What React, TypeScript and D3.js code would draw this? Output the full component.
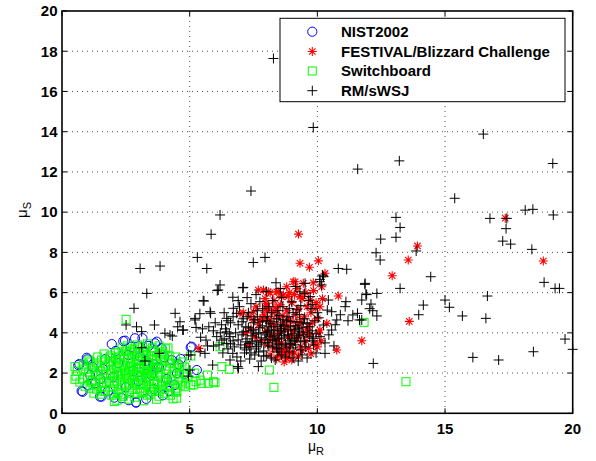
import { useEffect, useRef } from 'react'
import * as d3 from 'd3'

const W = 596
const H = 461

const xTicks = [0, 5, 10, 15, 20]
const yTicks = [0, 2, 4, 6, 8, 10, 12, 14, 16, 18, 20]
const legendNames = ['NIST2002', 'FESTIVAL/Blizzard Challenge', 'Switchboard', 'RM/sWSJ']

// [muR, muS]
const nist: [number, number][] = [
  [1.95, 3.44], [2.47, 3.61], [2.86, 3.73], [3.15, 3.73], [2.4, 3.59], [3.64, 3.48], [3.71, 3.56], [3.9, 3.23], [5.04, 3.28], [5.08, 3.31], [5.28, 2.15],
  [0.99, 2.68], [0.97, 2.76], [0.68, 2.45], [0.64, 2.4], [0.81, 1.07], [0.77, 1.11], [1.49, 0.83], [1.55, 0.83], [2.34, 0.75], [2.9, 0.53], [2.9, 0.55],
  [4.56, 2.44], [4.3, 2.65], [3.06, 2.81], [3.25, 2.4], [3.58, 2.45], [3.72, 2.29],
  [1.3, 1.5], [1.6, 2.2], [2.0, 1.8], [2.2, 2.5], [2.6, 2.9], [2.8, 2.1], [3.0, 1.6], [3.3, 2.6], [3.5, 1.9], [3.8, 2.3], [4.1, 1.7], [2.5, 1.3],
  [1.8, 1.1], [3.6, 1.2], [4.0, 2.8], [1.2, 2.3], [2.7, 3.3], [3.2, 3.1], [2.1, 3.1], [1.5, 1.7], [4.4, 1.4], [4.5, 2.0], [2.05, 0.78], [3.3, 0.72],
  [2.62, 0.65], [1.1, 1.9], [1.0, 1.4], [4.2, 1.1], [3.95, 0.9], [1.7, 2.7], [3.4, 3.35], [4.65, 2.7], [4.8, 1.95],
]

const festival: [number, number][] = [
  [5.36, 3.23], [9.26, 8.91], [9.32, 7.46], [9.69, 7.26], [10.04, 7.58], [10.3, 6.96], [11.74, 3.61], [10.76, 3.15], [13.6, 4.57], [12.93, 6.84],
  [13.56, 7.62], [13.92, 8.32], [17.36, 9.7], [18.85, 7.57], [10.82, 5.83], [9.13, 6.54], [9.45, 6.46], [9.84, 6.49], [10.17, 6.29], [8.41, 6.04],
  [8.08, 6.04], [8.47, 6.04], [7.89, 6.13], [7.69, 6.13], [8.8, 6.29], [8.86, 5.8], [7.99, 5.47], [8.02, 5.13], [8.02, 5.3], [6.97, 4.97],
  [7.1, 5.0], [7.36, 4.8], [7.49, 4.64], [7.75, 4.64], [7.88, 4.72], [8.08, 4.64], [8.54, 2.9], [8.8, 2.73], [8.54, 3.23], [8.93, 2.98],
  [9.26, 2.81], [9.65, 3.23], [8.8, 3.15], [10.1, 5.3], [9.06, 6.54], [10.37, 4.47], [10.1, 4.14], [9.32, 5.8], [9.72, 5.63], [9.92, 5.22],
  [8.02, 5.22], [8.41, 5.13], [8.15, 5.99], [8.67, 5.88],
  [7.4, 4.2], [7.55, 3.8], [7.7, 4.4], [7.8, 3.6], [7.9, 4.9], [8.0, 4.1], [8.05, 3.4], [8.1, 4.6], [8.2, 3.9], [8.25, 5.0], [8.3, 3.2], [8.35, 4.3],
  [8.4, 3.7], [8.45, 4.8], [8.5, 4.0], [8.55, 5.4], [8.6, 3.5], [8.65, 4.5], [8.7, 3.1], [8.75, 4.2], [8.8, 5.1], [8.85, 3.8], [8.9, 4.7], [8.95, 3.4],
  [9.0, 5.5], [9.05, 4.1], [9.1, 3.0], [9.15, 4.9], [9.2, 3.7], [9.25, 5.2], [9.3, 4.4], [9.35, 3.3], [9.4, 5.7], [9.45, 4.0], [9.5, 4.8], [9.55, 3.6],
  [9.6, 5.3], [9.65, 4.3], [9.7, 3.9], [9.75, 5.0], [9.8, 4.5], [9.9, 3.5], [9.95, 5.5], [10.0, 4.7], [10.05, 4.0], [10.15, 3.6], [8.15, 2.9], [8.4, 2.7],
  [8.7, 2.55], [9.0, 2.65], [8.9, 6.0], [9.2, 6.2], [9.55, 6.0], [8.6, 5.8], [8.3, 5.6], [7.6, 5.3], [7.3, 3.4], [7.2, 4.0], [9.85, 6.1], [10.2, 5.7],
  [9.1, 5.9], [8.75, 3.0], [8.55, 2.95], [9.4, 3.1], [9.75, 2.95], [10.0, 3.3], [8.2, 4.45], [8.65, 4.85], [9.05, 4.55], [9.35, 4.65], [8.85, 4.35],
  [8.45, 3.55], [9.25, 3.85], [8.95, 3.85], [8.35, 5.25], [9.6, 4.15], [8.1, 3.65], [7.95, 5.7], [7.5, 5.05],
]

const switchboard: [number, number][] = [
  [2.51, 4.67], [6.26, 2.32], [6.55, 2.19], [8.12, 2.15], [8.3, 1.29], [5.04, 2.85], [5.7, 1.9], [5.99, 1.52], [5.73, 1.49], [5.47, 1.49],
  [5.25, 1.57], [5.04, 1.41], [4.49, 0.75], [2.05, 0.58], [0.51, 2.32], [0.51, 1.69], [11.83, 4.52], [13.47, 1.57], [5.2, 2.0], [4.9, 1.8],
  [5.93, 1.57], [5.41, 1.65], [5.14, 1.41], [4.82, 1.32], [6.19, 3.31],
  [2.35, 3.25], [2.55, 3.35], [2.75, 3.2], [2.95, 3.4], [3.15, 3.3], [3.35, 3.45], [3.55, 3.25], [3.8, 3.35], [4.05, 3.2], [2.2, 3.05], [3.95, 3.05], [4.15, 3.25],
  [1.65, 2.95], [1.9, 2.85], [2.1, 3.0], [2.4, 2.9], [2.65, 3.05], [2.85, 2.85], [3.05, 3.0], [3.3, 2.9], [3.5, 3.05], [3.7, 2.85], [3.9, 2.95], [4.2, 2.85], [4.45, 2.8], [1.4, 2.8],
  [0.85, 2.45], [1.1, 2.55], [1.35, 2.5], [1.55, 2.65], [1.8, 2.45], [2.0, 2.6], [2.25, 2.5], [2.45, 2.7], [2.7, 2.55], [2.9, 2.45], [3.1, 2.65], [3.35, 2.5],
  [3.55, 2.7], [3.75, 2.45], [4.0, 2.6], [4.25, 2.5], [4.5, 2.4], [4.7, 2.55],
  [0.6, 2.1], [0.85, 2.2], [1.05, 2.05], [1.25, 2.25], [1.5, 2.1], [1.7, 2.3], [1.95, 2.15], [2.15, 2.05], [2.35, 2.25], [2.6, 2.1], [2.8, 2.3], [3.0, 2.05],
  [3.2, 2.2], [3.45, 2.1], [3.65, 2.25], [3.85, 2.05], [4.1, 2.2], [4.35, 2.1], [4.6, 2.25], [4.75, 2.05],
  [0.55, 1.85], [0.8, 1.7], [1.0, 1.8], [1.2, 1.65], [1.4, 1.9], [1.65, 1.75], [1.85, 1.6], [2.05, 1.85], [2.3, 1.7], [2.5, 1.9], [2.75, 1.65], [2.95, 1.8],
  [3.15, 1.7], [3.4, 1.85], [3.6, 1.6], [3.85, 1.8], [4.05, 1.65], [4.3, 1.85], [4.55, 1.7], [4.7, 1.6],
  [0.9, 1.35], [1.1, 1.25], [1.3, 1.45], [1.55, 1.3], [1.75, 1.5], [2.0, 1.35], [2.2, 1.2], [2.45, 1.45], [2.65, 1.3], [2.85, 1.5], [3.05, 1.25], [3.3, 1.4],
  [3.5, 1.3], [3.75, 1.45], [3.95, 1.2], [4.2, 1.35], [4.45, 1.25], [4.65, 1.4],
  [1.25, 1.0], [1.5, 0.95], [1.7, 1.1], [1.95, 0.9], [2.2, 1.05], [2.4, 0.85], [2.65, 1.0], [2.85, 0.8], [3.1, 1.05], [3.35, 0.9], [3.55, 1.1], [3.8, 0.85],
  [4.0, 1.0], [4.25, 0.9], [4.45, 1.05],
  [2.15, 0.65], [2.6, 0.7], [3.2, 0.62], [3.7, 0.7], [4.35, 0.72],
  [2.5, 2.0], [2.7, 1.8], [2.9, 2.2], [3.1, 1.9], [3.3, 2.3], [2.4, 2.4], [3.6, 2.0], [2.2, 1.9], [3.0, 2.7], [2.6, 1.5], [3.4, 1.6], [1.9, 2.0],
  [1.3, 2.0], [1.45, 2.35], [1.6, 1.55], [1.75, 1.95], [1.9, 2.55], [2.05, 1.5], [2.15, 2.3], [2.3, 1.95], [2.35, 1.4], [2.45, 2.15], [2.55, 1.75],
  [2.6, 2.75], [2.7, 2.35], [2.75, 1.2], [2.8, 1.95], [2.9, 1.45], [2.95, 2.6], [3.05, 2.25], [3.1, 1.5], [3.15, 2.85], [3.2, 1.1], [3.25, 2.05],
  [3.3, 1.75], [3.4, 2.4], [3.45, 1.2], [3.5, 2.85], [3.55, 2.2], [3.6, 1.45], [3.7, 2.6], [3.75, 1.9], [3.8, 1.1], [3.9, 2.35], [3.95, 1.55],
  [4.0, 2.9], [4.1, 1.95], [4.15, 1.4], [4.2, 2.65], [4.3, 1.6], [4.4, 2.3], [4.5, 1.1], [1.15, 1.55], [1.35, 1.2], [0.95, 2.35], [0.7, 1.55],
  [1.85, 2.75], [2.25, 2.8], [2.5, 3.1], [2.85, 3.15], [3.25, 3.15], [3.6, 3.1], [1.6, 1.1], [2.0, 1.1], [2.35, 0.95], [2.95, 1.0], [3.45, 0.95],
  [3.9, 1.35], [4.6, 1.95], [4.8, 2.3], [4.85, 1.5], [1.05, 2.65], [2.1, 2.75], [3.0, 3.25], [2.65, 2.25], [3.35, 1.95], [2.15, 1.6], [3.85, 2.7],
]

const rm: [number, number][] = [
  [8.28, 17.64], [9.84, 14.21], [16.5, 13.88], [13.21, 12.55], [19.22, 12.42], [11.58, 12.14], [7.4, 11.05], [15.38, 10.69], [18.14, 10.1], [18.44, 10.14],
  [6.19, 9.86], [16.76, 9.69], [17.42, 9.69], [19.24, 9.86], [13.08, 9.74], [13.24, 9.24], [17.39, 9.18], [5.84, 8.9], [12.48, 8.66], [13.08, 8.75],
  [17.26, 8.56], [17.57, 8.41], [13.87, 8.07], [12.3, 7.98], [12.46, 7.62], [18.4, 8.15], [14.44, 6.79], [11.86, 6.41], [13.24, 6.21], [18.88, 6.51],
  [19.31, 6.21], [19.48, 6.21], [12.33, 5.96], [11.9, 5.93], [11.74, 5.63], [12.1, 5.43], [12.17, 5.1], [12.33, 4.84], [11.74, 4.64], [14.15, 5.38],
  [13.97, 4.9], [15.0, 5.63], [15.17, 5.27], [15.68, 4.84], [16.66, 5.83], [16.6, 4.72], [19.7, 3.69], [20.0, 3.18], [12.19, 2.48], [16.09, 2.78],
  [17.1, 2.65], [18.46, 3.06],
  [5.3, 7.75], [7.95, 7.75], [5.67, 7.2], [7.49, 7.5], [3.06, 7.2], [3.84, 7.32], [3.32, 5.96], [2.82, 5.22], [2.51, 4.39], [2.92, 4.3],
  [3.62, 4.39], [4.03, 3.98], [4.32, 3.84], [4.43, 4.97], [4.62, 4.55], [4.53, 4.3], [4.73, 4.14], [5.21, 4.72], [5.56, 5.58], [5.8, 5.05],
  [6.12, 6.13], [6.19, 6.38], [6.08, 6.1], [7.1, 6.26], [8.38, 6.49], [3.12, 3.26], [3.81, 2.98], [5.05, 2.9], [5.9, 2.4], [6.88, 2.32],
  [7.69, 2.32], [5.53, 5.6], [6.69, 5.77], [5.82, 4.97], [6.71, 5.22], [6.84, 4.97], [6.45, 4.72], [5.21, 4.64], [5.25, 4.27], [4.75, 4.14],
  [5.43, 3.78], [5.64, 3.64], [5.93, 4.1], [6.06, 3.81], [6.26, 3.64], [6.45, 3.48], [6.58, 3.81], [5.41, 3.06], [5.6, 2.98], [5.93, 3.34],
  [6.69, 2.98], [6.58, 2.65], [6.91, 2.24], [7.23, 3.15], [7.36, 3.48], [7.62, 3.31], [7.08, 6.24],
  [3.12, 4.06], [4.23, 3.89], [4.95, 2.9], [5.01, 2.15], [3.25, 2.6], [4.95, 1.85],
  [10.1, 6.66], [10.2, 6.87], [10.82, 7.2], [11.15, 7.16], [10.43, 5.63], [10.39, 5.13], [10.56, 5.05], [10.76, 4.64], [10.56, 4.14], [10.24, 4.39],
  [10.1, 3.81], [9.84, 3.73], [10.3, 2.98], [11.12, 5.55], [11.09, 5.3], [11.39, 4.89], [11.57, 4.97], [11.65, 4.64], [11.87, 6.46], [11.93, 5.9],
  [12.05, 5.2], [10.24, 6.79], [10.1, 6.54], [10.17, 6.38], [9.52, 6.46], [9.32, 6.04], [9.72, 5.8],
  [6.4, 4.2], [6.5, 3.2], [6.6, 4.5], [6.7, 3.6], [6.8, 4.0], [6.85, 2.8], [6.9, 4.4], [7.0, 3.4], [7.05, 3.9], [7.1, 4.7], [7.15, 3.0], [7.2, 4.3],
  [7.25, 3.7], [7.3, 5.0], [7.35, 3.3], [7.4, 4.1], [7.45, 3.55], [7.5, 4.5], [7.55, 2.9], [7.6, 3.95], [7.65, 4.8], [7.7, 3.4], [7.75, 4.25], [7.8, 3.75],
  [7.85, 5.2], [7.9, 3.1], [7.95, 4.0], [8.0, 4.6], [8.05, 3.5], [8.1, 4.3], [8.15, 3.8], [8.2, 5.0], [8.25, 3.3], [8.3, 4.1], [8.35, 3.6], [8.4, 4.7],
  [8.45, 3.95], [8.5, 3.2], [8.55, 4.4], [8.6, 3.75], [8.65, 5.3], [8.7, 4.05], [8.75, 3.45], [8.8, 4.6], [8.85, 3.9], [8.9, 3.05], [8.95, 4.3], [9.0, 3.7],
  [9.05, 5.0], [9.1, 4.15], [9.15, 3.4], [9.2, 4.55], [9.25, 3.85], [9.3, 4.9], [9.35, 3.55], [9.4, 4.25], [9.45, 3.9], [9.5, 4.7], [9.55, 3.3], [9.6, 4.45],
  [9.7, 3.8], [9.75, 5.2], [9.8, 4.1], [9.9, 4.6], [9.95, 3.95], [7.0, 2.6], [7.35, 2.7], [8.0, 2.85], [8.35, 2.65], [8.75, 2.8], [9.05, 2.75], [9.4, 2.9],
  [6.2, 4.0], [6.3, 3.0], [6.55, 3.95], [6.95, 5.3], [7.4, 5.45], [7.75, 5.55], [8.25, 5.6], [8.6, 5.75], [9.0, 5.55], [9.35, 5.35], [9.65, 5.6], [7.95, 3.65],
  [8.15, 4.45], [8.4, 3.45], [8.7, 4.35], [8.5, 4.85], [8.05, 4.05], [7.6, 3.6], [7.85, 4.55], [8.85, 4.8], [9.1, 3.6], [8.3, 3.85], [8.6, 4.2], [7.2, 3.55],
  [7.5, 4.15], [6.75, 3.3], [7.1, 4.05], [8.95, 3.45], [9.25, 4.2], [8.45, 3.05], [7.7, 3.05], [6.6, 3.45], [6.35, 3.7], [9.85, 3.4], [10.0, 5.0],
  [6.9, 3.65], [7.05, 4.55], [7.15, 3.25], [7.3, 4.25], [7.4, 3.0], [7.45, 3.85], [7.55, 4.65], [7.6, 3.2], [7.7, 4.0], [7.8, 3.5], [7.85, 4.35],
  [7.9, 2.85], [8.0, 3.9], [8.05, 4.8], [8.1, 3.35], [8.2, 4.15], [8.25, 3.65], [8.3, 4.55], [8.4, 3.25], [8.45, 4.3], [8.5, 3.7], [8.55, 4.1],
  [8.6, 3.4], [8.65, 4.65], [8.7, 3.85], [8.8, 3.3], [8.85, 4.15], [8.9, 3.6], [8.95, 4.55], [9.0, 3.95], [9.05, 3.25], [9.15, 4.35], [9.2, 3.75],
  [9.3, 4.05], [9.35, 3.15], [9.45, 4.5], [9.5, 3.6], [9.6, 4.0], [9.7, 4.3], [9.8, 3.6], [7.25, 4.8], [7.65, 5.1], [8.1, 5.3], [8.45, 5.1],
  [8.9, 5.2], [9.2, 5.15], [7.8, 2.6], [8.2, 2.75], [8.6, 2.9], [6.7, 4.8], [6.5, 4.6], [6.45, 4.05], [6.25, 4.4], [6.15, 3.4], [6.0, 4.5],
  [5.75, 4.3], [5.7, 3.35], [5.5, 4.2], [5.4, 4.95], [6.35, 5.0], [6.9, 5.6], [7.25, 5.75], [7.6, 5.9], [8.0, 6.05], [8.55, 6.2], [9.15, 6.3],
  [9.5, 5.95], [9.8, 5.4], [10.05, 4.75], [10.3, 3.5], [10.45, 3.9], [10.7, 4.4], [10.9, 4.9], [11.2, 4.6], [10.65, 3.35], [9.95, 3.0], [9.6, 2.75],
  [9.25, 2.6],
]

const series = [
  { data: nist, marker: 'circle', color: '#0000ff' },
  { data: festival, marker: 'star', color: '#ff0000' },
  { data: switchboard, marker: 'square', color: '#00ff00' },
  { data: rm, marker: 'plus', color: '#000000' },
]

const FONT = "'Liberation Sans', Arial, Helvetica, sans-serif"

function drawMarker(g: any, marker: string, color: string, x: number, y: number) {
  if (marker === 'circle') {
    g.append('circle').attr('cx', x).attr('cy', y).attr('r', 4.6)
      .attr('fill', 'none').attr('stroke', color).attr('stroke-width', 1)
  } else if (marker === 'square') {
    g.append('rect').attr('x', x - 4).attr('y', y - 4).attr('width', 8).attr('height', 8)
      .attr('fill', 'none').attr('stroke', color).attr('stroke-width', 1)
  } else if (marker === 'star') {
    g.append('path')
      .attr('d', `M${x - 4.5},${y}H${x + 4.5}M${x},${y - 4.5}V${y + 4.5}M${x - 3.2},${y - 3.2}L${x + 3.2},${y + 3.2}M${x - 3.2},${y + 3.2}L${x + 3.2},${y - 3.2}`)
      .attr('fill', 'none').attr('stroke', color).attr('stroke-width', 1.1)
  } else {
    g.append('path')
      .attr('d', `M${x - 5},${y}H${x + 5}M${x},${y - 5}V${y + 5}`)
      .attr('fill', 'none').attr('stroke', color).attr('stroke-width', 1)
  }
}

export default function App() {
  const svgRef = useRef<SVGSVGElement>(null)

  useEffect(() => {
    const svg = d3.select(svgRef.current)
    svg.selectAll('*').remove()

    const left = 62, right = 572.7, top = 11, bottom = 413.3
    const x = d3.scaleLinear().domain([0, 20]).range([left, right])
    const y = d3.scaleLinear().domain([0, 20]).range([bottom, top])

    svg.append('rect').attr('width', W).attr('height', H).attr('fill', '#fff')

    // dotted grid
    const grid = svg.append('g').attr('stroke', '#000').attr('stroke-width', 0.7).attr('stroke-dasharray', '1,4')
    xTicks.slice(1, -1).forEach((t) => {
      grid.append('line').attr('x1', x(t)).attr('x2', x(t)).attr('y1', top).attr('y2', bottom)
    })
    yTicks.slice(1, -1).forEach((t) => {
      grid.append('line').attr('x1', left).attr('x2', right).attr('y1', y(t)).attr('y2', y(t))
    })

    // points
    const plot = svg.append('g')
    series.forEach((s) => {
      s.data.forEach(([a, b]) => {
        drawMarker(plot, s.marker, s.color, x(a), y(b))
      })
    })

    // axes box and inward ticks
    const ax = svg.append('g').attr('stroke', '#000').attr('fill', 'none')
    ax.append('rect').attr('x', left).attr('y', top).attr('width', right - left).attr('height', bottom - top)
      .attr('stroke-width', 1.6)
    xTicks.forEach((t) => {
      ax.append('line').attr('x1', x(t)).attr('x2', x(t)).attr('y1', bottom).attr('y2', bottom - 5).attr('stroke-width', 1)
      ax.append('line').attr('x1', x(t)).attr('x2', x(t)).attr('y1', top).attr('y2', top + 5).attr('stroke-width', 1)
    })
    yTicks.forEach((t) => {
      ax.append('line').attr('x1', left).attr('x2', left + 5).attr('y1', y(t)).attr('y2', y(t)).attr('stroke-width', 1)
      ax.append('line').attr('x1', right).attr('x2', right - 5).attr('y1', y(t)).attr('y2', y(t)).attr('stroke-width', 1)
    })

    const labels = svg.append('g').attr('font-family', FONT).attr('font-weight', 'bold').attr('font-size', '15px').attr('fill', '#000')
    xTicks.forEach((t) => {
      labels.append('text').attr('x', x(t)).attr('y', 434).attr('text-anchor', 'middle').text(t)
    })
    yTicks.forEach((t) => {
      labels.append('text').attr('x', 57.5).attr('y', y(t) + 5.3).attr('text-anchor', 'end').text(t)
    })

    // axis titles
    const xt = svg.append('text').attr('x', 316).attr('y', 451).attr('text-anchor', 'middle')
      .attr('font-family', FONT).attr('font-size', '14px')
    xt.append('tspan').text('μ')
    xt.append('tspan').attr('font-size', '11px').attr('dy', 4).text('R')

    const yt = svg.append('text').attr('transform', 'translate(27,210) rotate(-90)').attr('text-anchor', 'middle')
      .attr('font-family', FONT).attr('font-size', '15px')
    yt.append('tspan').text('μ')
    yt.append('tspan').attr('font-size', '11px').attr('dy', 4).text('S')

    // legend
    const lg = svg.append('g')
    lg.append('rect').attr('x', 280).attr('y', 18.3).attr('width', 285).attr('height', 83.4)
      .attr('fill', '#fff').attr('stroke', '#000').attr('stroke-width', 1)
    const rowY = [31.7, 51.5, 71, 90.7]
    series.forEach((s, i) => {
      drawMarker(lg, s.marker, s.color, 312.3, rowY[i])
      lg.append('text').attr('x', 341).attr('y', rowY[i] + 5.3)
        .attr('font-family', FONT).attr('font-weight', 'bold').attr('font-size', '15px').text(legendNames[i])
    })
  }, [])

  return <svg ref={svgRef} width={W} height={H} style={{ position: 'absolute', left: 0, top: 0 }} />
}
